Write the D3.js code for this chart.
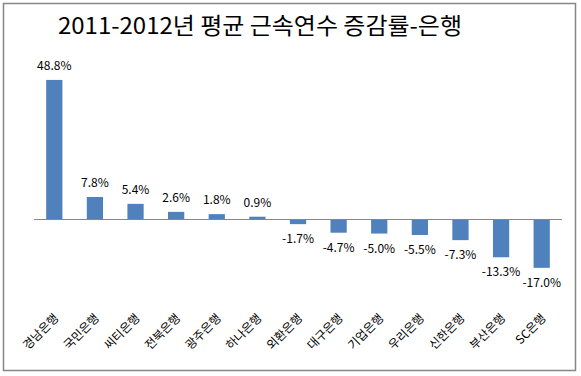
<!DOCTYPE html>
<html>
<head>
<meta charset="utf-8">
<script src="https://cdn.jsdelivr.net/npm/d3@7"></script>
<style>
  body { margin: 0; background: #fff; }
  svg { display: block; }
</style>
</head>
<body>
<div id="chart"></div>
<script>
// 2011-2012 평균 근속연수 증감률 (은행)
const banks = ['경남은행', '국민은행', '씨티은행', '전북은행', '광주은행', '하나은행', '외환은행',
    '대구은행', '기업은행', '우리은행', '신한은행', '부산은행', 'SC은행'];
const changes = [48.8, 7.8, 5.4, 2.6, 1.8, 0.9, -1.7, -4.7, -5.0, -5.5, -7.3, -13.3, -17.0];
const chartTitle = '2011-2012년 평균 근속연수 증감률-은행';

const W = 581, H = 376;
const barColor = '#4f81bd';
const fontFamily = '"Noto Sans CJK KR", "Noto Sans", sans-serif';

const svg = d3.select('#chart').append('svg')
    .attr('width', W)
    .attr('height', H);

// outer border
svg.append('rect')
    .attr('x', 3.5).attr('y', 3.5)
    .attr('width', 572).attr('height', 367)
    .attr('fill', '#fff')
    .attr('stroke', '#868686')
    .attr('stroke-width', 1.5);

svg.append('text')
    .attr('x', 260)
    .attr('y', 34)
    .attr('text-anchor', 'middle')
    .attr('textLength', 404)
    .attr('lengthAdjust', 'spacingAndGlyphs')
    .style('font-family', fontFamily)
    .style('font-size', '23px')
    .style('font-weight', '400')
    .style('fill', '#000')
    .text(chartTitle);

const data = banks.map((b, i) => ({ bank: b, value: changes[i] }));

// scales
const x = d3.scaleBand()
    .domain(banks)
    .range([34, 562])
    .paddingInner(0.6)
    .paddingOuter(0.3);

const y = d3.scaleLinear()
    .domain([-20, 50])
    .range([276.4, 76.5]);

// bars
svg.append('g')
    .selectAll('rect')
    .data(data)
    .join('rect')
    .attr('x', d => x(d.bank))
    .attr('width', x.bandwidth())
    .attr('y', d => y(Math.max(0, d.value)))
    .attr('height', d => Math.abs(y(d.value) - y(0)))
    .attr('fill', barColor);

// zero line
svg.append('line')
    .attr('x1', 34).attr('x2', 562)
    .attr('y1', Math.round(y(0)) + 0.5)
    .attr('y2', Math.round(y(0)) + 0.5)
    .attr('stroke', '#868686')
    .attr('stroke-width', 1);

// value labels
svg.append('g')
    .selectAll('text')
    .data(data)
    .join('text')
    .attr('x', d => x(d.bank) + x.bandwidth() / 2)
    .attr('y', d => d.value >= 0 ? y(d.value) - 10 : y(d.value) + 19)
    .attr('text-anchor', 'middle')
    .style('font-family', fontFamily)
    .style('font-size', '12px')
    .style('fill', '#000')
    .text(d => d3.format('.1f')(d.value).replace('−', '-') + '%');

// category labels (rotated, placed below plot)
const xAxis = d3.axisBottom(x).tickSize(0).tickPadding(0);
const axisG = svg.append('g')
    .attr('transform', 'translate(0, 316)')
    .call(xAxis);
axisG.select('.domain').remove();
axisG.selectAll('text')
    .attr('transform', 'translate(2,0) rotate(-45)')
    .attr('text-anchor', 'end')
    .attr('dy', '0.35em')
    .attr('y', 0)
    .style('font-family', fontFamily)
    .style('font-size', '12px')
    .style('fill', '#000');
</script>
</body>
</html>
